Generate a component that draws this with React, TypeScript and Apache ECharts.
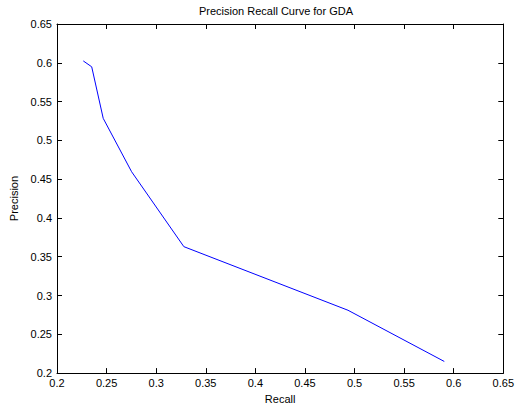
import React, { useEffect, useRef } from "react";
import * as echarts from "echarts";

const recall = [0.2265, 0.235, 0.2466, 0.2752, 0.3279, 0.4934, 0.5905];
const precision = [0.6024, 0.5948, 0.5284, 0.4596, 0.363, 0.281, 0.215];
const titleText = "Precision Recall Curve for GDA";
const xName = "Recall";
const yName = "Precision";

export default function App() {
  const ref = useRef<HTMLDivElement>(null);
  useEffect(() => {
    const chart = echarts.init(ref.current!, null, { renderer: "svg" });
    const font = "'Liberation Sans', Arial, Helvetica, sans-serif";
    const axisCommon = {
      min: 0.2,
      max: 0.65,
      interval: 0.05,
      axisLine: { show: true, onZero: false, lineStyle: { color: "#000", width: 1 } },
      axisTick: { show: true, inside: true, length: 5, lineStyle: { color: "#000" } },
      splitLine: { show: false },
    };
    const data = recall.map((r, i) => [r, precision[i]]);
    chart.setOption({
      animation: false,
      backgroundColor: "#fff",
      textStyle: { fontFamily: font },
      title: {
        text: titleText,
        left: 199,
        top: 5,
        padding: 0,
        textStyle: { fontSize: 11, fontWeight: "normal", color: "#000", fontFamily: font },
      },
      grid: { left: 57, right: 13, top: 24, bottom: 32, containLabel: false },
      xAxis: [
        {
          ...axisCommon,
          type: "value",
          position: "bottom",
          name: xName,
          nameLocation: "middle",
          nameGap: 19,
          nameTextStyle: { fontSize: 11, color: "#000", fontFamily: font },
          axisLabel: { fontSize: 11, color: "#000", margin: 4, fontFamily: font },
        },
        {
          ...axisCommon,
          type: "value",
          position: "top",
          axisLabel: { show: false },
        },
      ],
      yAxis: [
        {
          ...axisCommon,
          type: "value",
          position: "left",
          name: yName,
          nameLocation: "middle",
          nameGap: 31,
          nameTextStyle: { fontSize: 11, color: "#000", fontFamily: font },
          axisLabel: { fontSize: 11, color: "#000", margin: 5, fontFamily: font },
        },
        {
          ...axisCommon,
          type: "value",
          position: "right",
          axisLabel: { show: false },
        },
      ],
      series: [
        {
          type: "line",
          data,
          xAxisIndex: 0,
          yAxisIndex: 0,
          showSymbol: false,
          symbol: "none",
          lineStyle: { color: "#0000ff", width: 1 },
        },
      ],
    });
    return () => chart.dispose();
  }, []);
  return (
    <div
      ref={ref}
      style={{ position: "absolute", left: 0, top: 0, width: 517, height: 409 }}
    />
  );
}
